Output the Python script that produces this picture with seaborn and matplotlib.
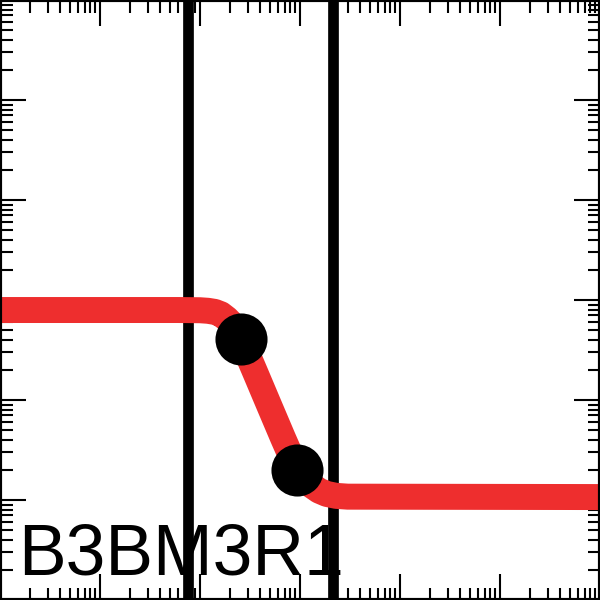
import matplotlib
matplotlib.use('Agg')
import matplotlib.pyplot as plt
import matplotlib.ticker as mticker
import numpy as np
import pandas as pd
import seaborn as sns

# curve (log-log axes)
curve_x = [1, 60, 100, 120, 141, 162, 185, 214, 257, 355, 490, 676, 933,
           1100, 1300, 1550, 1850, 2300, 3000, 1e6]
curve_y = [794, 794, 790, 780, 760, 720, 650, 560, 407, 191, 89, 41.7, 20,
           16.5, 14.0, 12.4, 11.5, 11.0, 10.8, 10.7]

# highlighted points
pts_x = [257, 933]
pts_y = [407, 20]

# vertical markers
vlines_x = [76, 2150]

label = 'B3BM3R1'

sns.set_style('ticks')
plt.rcParams['font.family'] = ['Liberation Sans', 'DejaVu Sans']

df_curve = pd.DataFrame({'x': curve_x, 'y': curve_y})
df_pts = pd.DataFrame({'x': pts_x, 'y': pts_y})

fig = plt.figure(figsize=(6, 6), dpi=100)
ax = fig.add_axes([0, 0, 1, 1])
ax.set_xscale('log')
ax.set_yscale('log')
ax.set_xlim(1, 1e6)
ax.set_ylim(1, 1e6)

for xv in vlines_x:
    ax.axvline(xv, color='black', lw=7.7, zorder=1)

sns.lineplot(data=df_curve, x='x', y='y', ax=ax, color='#ee2e2e', lw=18.7,
             estimator=None, sort=False, zorder=2,
             solid_joinstyle='round', solid_capstyle='butt')
ax.plot(df_pts['x'], df_pts['y'], 'o', color='black', ms=37.5, mew=0, zorder=3)

ax.text(0.03, 0.042, label, transform=ax.transAxes, fontsize=51.5,
        color='black', ha='left', va='baseline', zorder=4)

ax.xaxis.set_major_locator(mticker.LogLocator(base=10, numticks=20))
ax.yaxis.set_major_locator(mticker.LogLocator(base=10, numticks=20))
ax.xaxis.set_minor_locator(mticker.LogLocator(base=10, subs=np.arange(2, 10), numticks=100))
ax.yaxis.set_minor_locator(mticker.LogLocator(base=10, subs=np.arange(2, 10), numticks=100))
ax.tick_params(which='both', direction='in', top=True, right=True,
               labelbottom=False, labelleft=False, color='black')
ax.tick_params(which='major', length=19, width=1.5)
ax.tick_params(which='minor', length=9, width=1.5)
ax.set_xlabel('')
ax.set_ylabel('')
for s in ax.spines.values():
    s.set_linewidth(3)
    s.set_color('black')

fig.savefig('out.png', dpi=100)
